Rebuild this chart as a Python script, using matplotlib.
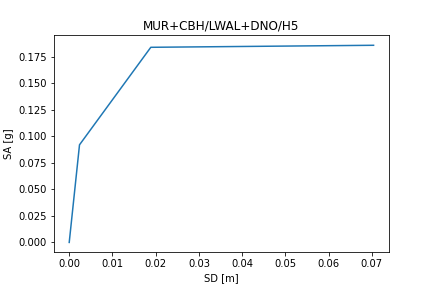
import matplotlib
matplotlib.use('Agg')
import matplotlib.pyplot as plt

# capacity curve points
sd = [0.0, 0.00238, 0.01887, 0.0704]
sa = [0.0, 0.0919, 0.1837, 0.1856]

fig = plt.figure(figsize=(6, 4), dpi=72)
ax = fig.add_subplot(111)
fig.subplots_adjust(left=0.125, right=0.9, bottom=0.124, top=0.877)
ax.plot(sd, sa)
ax.set_title("MUR+CBH/LWAL+DNO/H5")
ax.set_xlabel("SD [m]")
ax.set_ylabel("SA [g]")
fig.savefig("out.png", dpi=72)
